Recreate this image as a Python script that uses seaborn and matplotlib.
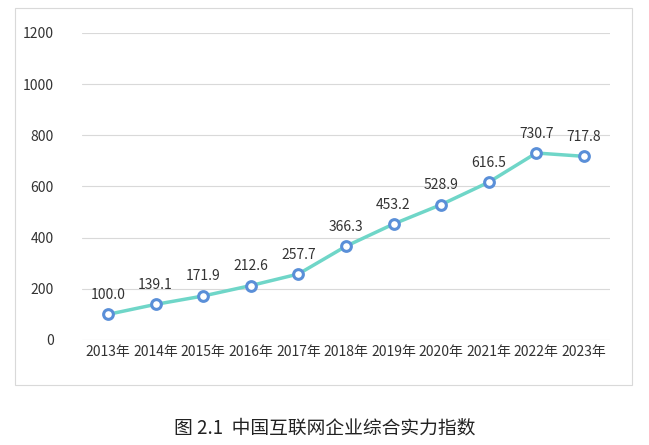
import matplotlib
matplotlib.use("Agg")
import matplotlib.pyplot as plt
import seaborn as sns
import pandas as pd
from matplotlib.patches import Rectangle

years = ["2013年","2014年","2015年","2016年","2017年","2018年","2019年","2020年","2021年","2022年","2023年"]
values = [100.0,139.1,171.9,212.6,257.7,366.3,453.2,528.9,616.5,730.7,717.8]

sns.set_style("white")
plt.rcParams['font.family'] = ['Noto Sans CJK SC', 'DejaVu Sans']

fig = plt.figure(figsize=(6.49,4.45), dpi=100)
ax = fig.add_axes([0.126, 0.236, 0.814, 0.69])
df = pd.DataFrame({"x": range(len(years)), "v": values})
sns.lineplot(data=df, x="x", y="v", ax=ax, color="#6fd6c8", linewidth=2.5,
             marker="o", markersize=7, markerfacecolor="white",
             markeredgecolor="#5a8fd8", markeredgewidth=2.2)
for i, v in enumerate(values):
    ax.annotate(f"{v:.1f}", (i, v), xytext=(0, 9), textcoords="offset points",
                ha="center", va="bottom", fontsize=10, color="#333333")
ax.set_xlim(-0.55, 10.55)
ax.set_ylim(0, 1200)
ax.set_yticks(range(0, 1201, 200))
ax.set_xticks(range(len(years)))
ax.set_xticklabels(years)
ax.tick_params(axis="both", labelsize=10, colors="#333333", length=0)
ax.tick_params(axis="y", pad=20)
ax.grid(axis="y", color="#d9d9d9", linewidth=0.8)
for s in ax.spines.values():
    s.set_visible(False)
ax.set_xlabel("")
ax.set_ylabel("")
fig.patches.append(Rectangle((15/649, 1-385/445), 617/649, 377/445, transform=fig.transFigure,
                             fill=False, edgecolor="#d9d9d9", linewidth=0.8))
fig.text(0.5, 1-428/445, "图 2.1  中国互联网企业综合实力指数", ha="center", va="center",
         fontsize=13.5, color="#222222")
fig.savefig("out.png", dpi=100)
